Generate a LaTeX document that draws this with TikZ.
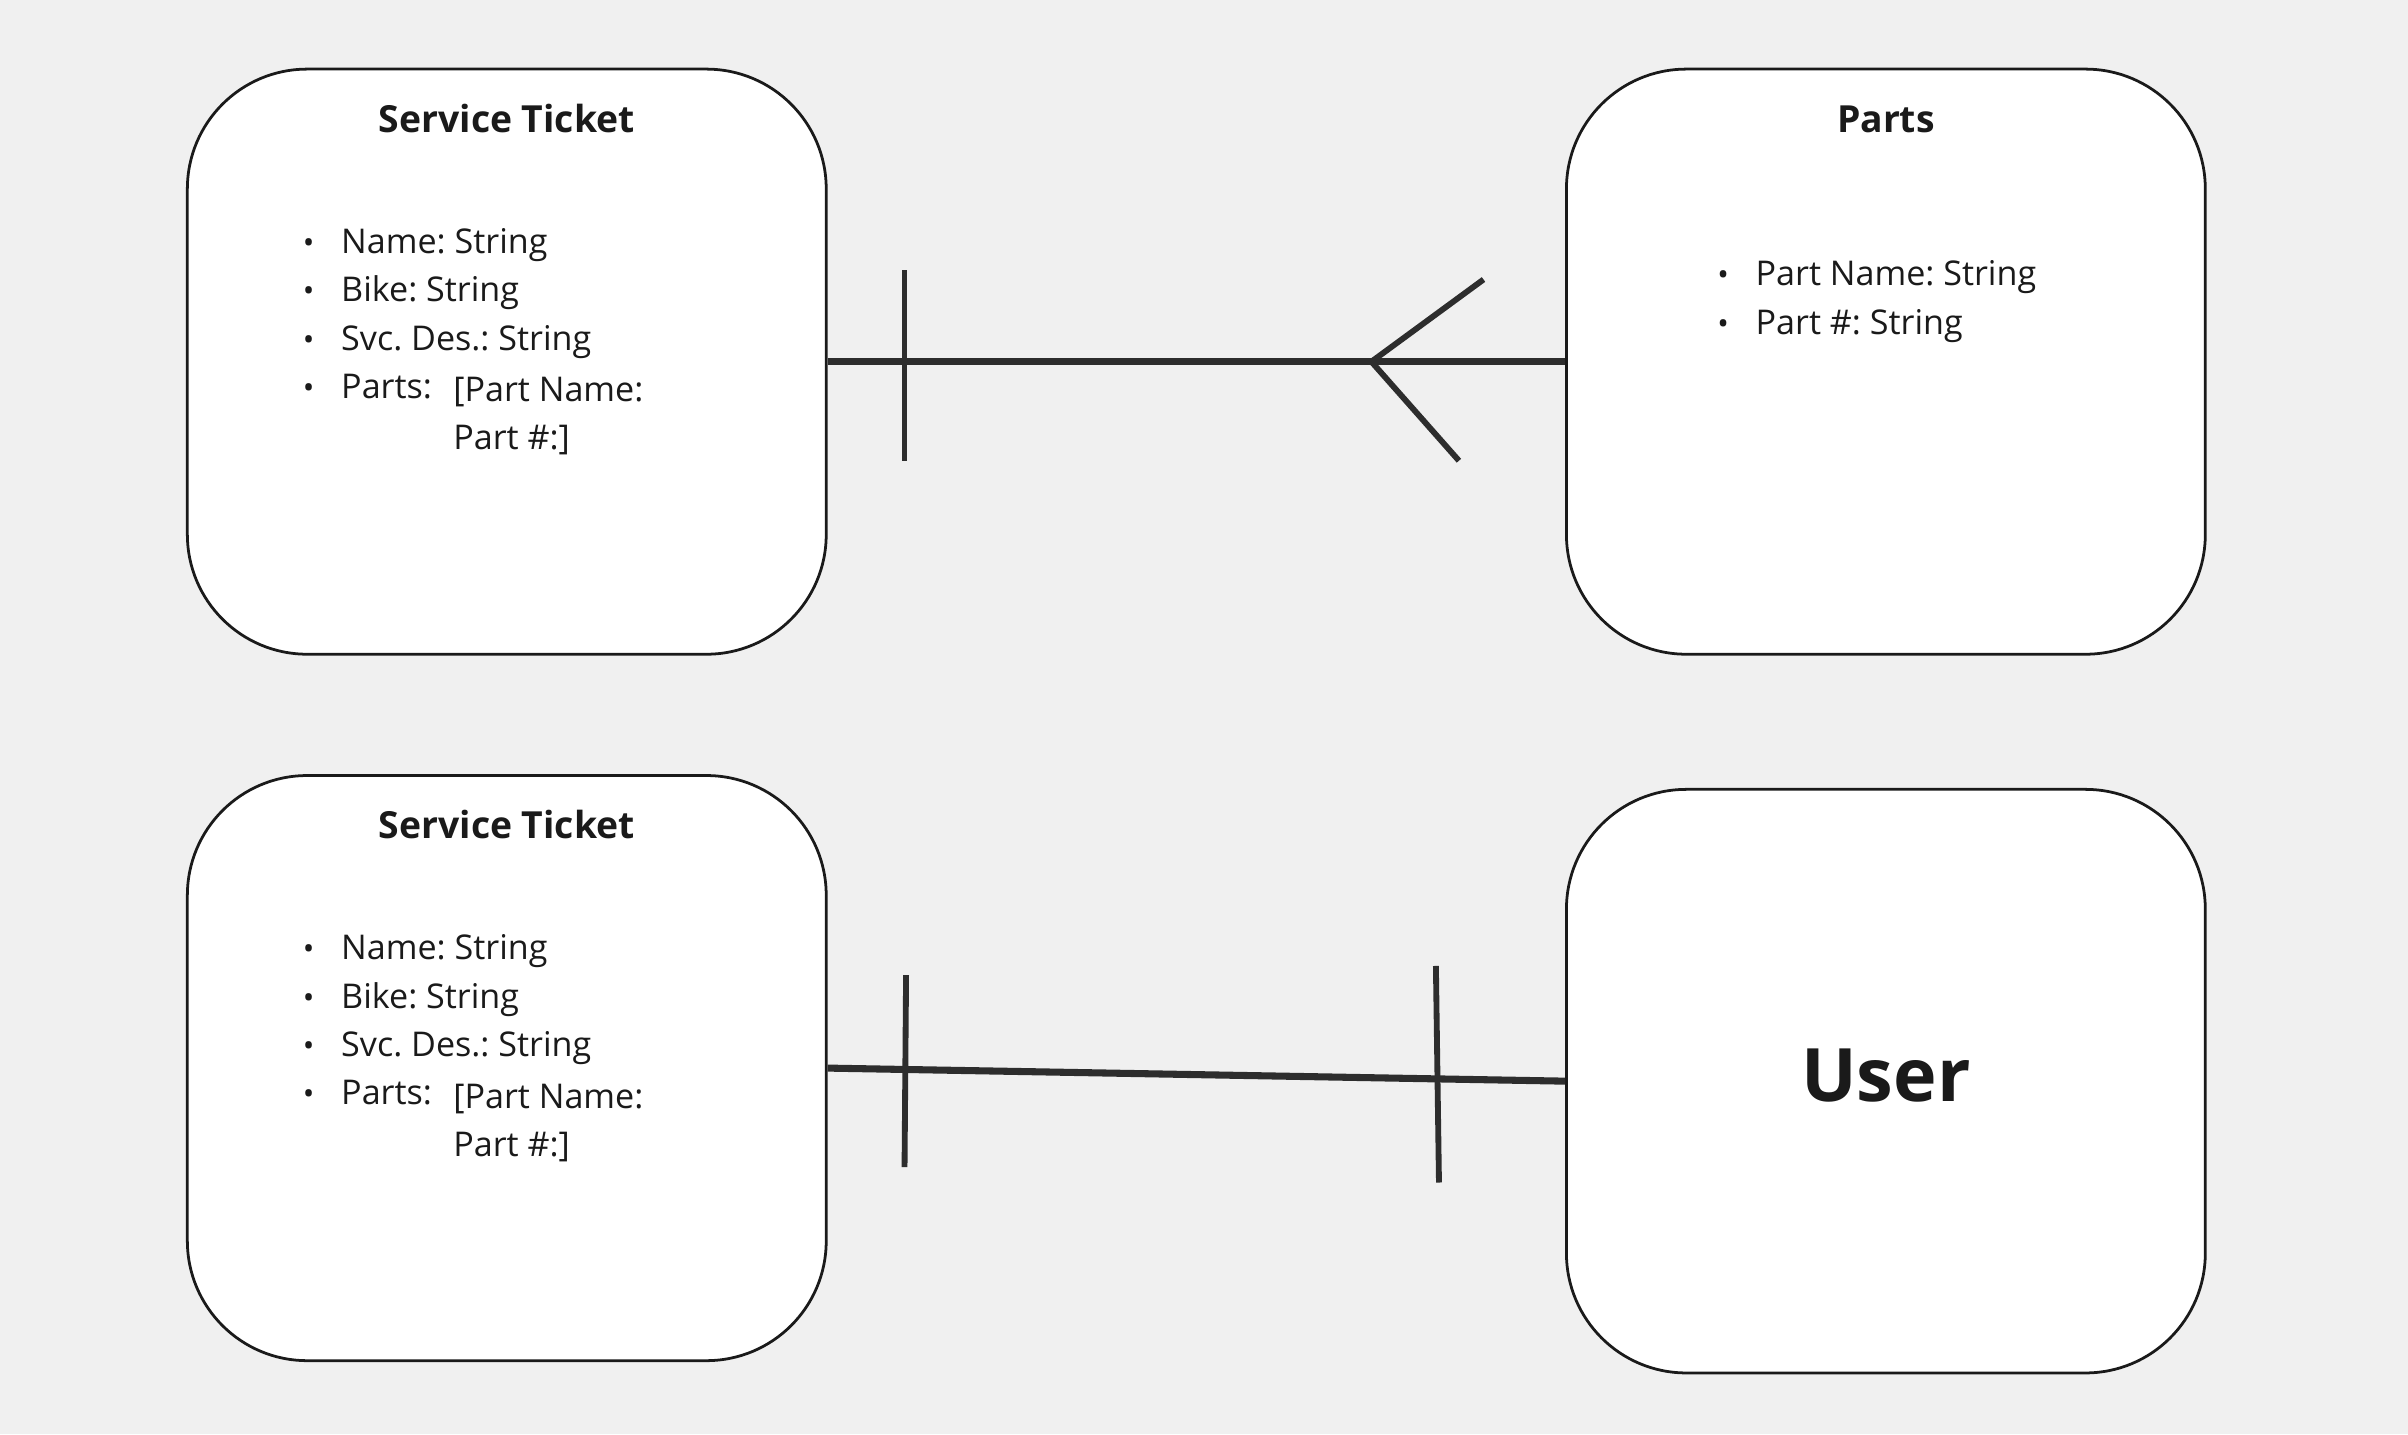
\documentclass[tikz,border=0pt]{standalone}
\usepackage{fontspec}
\setmainfont{Open Sans}
\frenchspacing
\definecolor{bgc}{HTML}{F0F0F0}
\definecolor{boxline}{HTML}{1A1A1A}
\definecolor{ink}{HTML}{1A1A1A}
\definecolor{linec}{HTML}{2D2D2D}
\begin{document}
\begin{tikzpicture}[x=1pt,y=-1pt,
  entity/.style={draw=boxline, fill=white, line width=1.8pt, rounded corners=78pt,
    minimum width=416pt, minimum height=381pt, inner sep=0pt},
  title/.style={font=\bfseries\fontsize{24.3}{30}\selectfont, text=ink, anchor=base, inner sep=0pt},
  bigtitle/.style={font=\bfseries\fontsize{48}{58}\selectfont, text=ink, anchor=base, inner sep=0pt},
  body/.style={font=\fontsize{22.2}{31.5}\selectfont, text=ink, anchor=base west, inner sep=0pt},
  bul/.style={font=\fontsize{20}{31.5}\selectfont, text=ink, anchor=base, inner sep=0pt},
  conn/.style={draw=linec, line width=4.6pt},
  bar/.style={draw=linec, line width=3.8pt}]
\fill[bgc] (0,0) rectangle (1568,934);
\useasboundingbox (0,0) rectangle (1568,934);

% boxes
\node[entity] (st1) at (330,235.5) {};
\node[entity] (parts) at (1228,235.5) {};
\node[entity] (st2) at (330,695.5) {};
\node[entity, minimum height=380pt] (user) at (1228,704) {};

% Service Ticket (top)
\node[title] (st1t) at (330,86) {Service Ticket};
\node[bul] (st1b1) at (201,165) {•};
\node[body] (st1a) at (222,165) {Name: String};
\node[bul] (st1b2) at (201,196.5) {•};
\node[body] (st1b) at (222,196.5) {Bike: String};
\node[bul] (st1b3) at (201,228) {•};
\node[body] (st1c) at (222,228) {Svc. Des.: String};
\node[bul] (st1b4) at (201,259.5) {•};
\node[body] (st1d) at (222,259.5) {Parts:};
\node[body] (st1e) at (295,261.5) {[Part Name:};
\node[body] (st1f) at (295,293) {Part \#:]};

% Parts
\node[title] (partst) at (1228,86) {Parts};
\node[bul] (pb1) at (1122,186) {•};
\node[body] (pa) at (1143,186) {Part Name: String};
\node[bul] (pb2) at (1122,217.5) {•};
\node[body] (pb) at (1143,217.5) {Part \#: String};

% Service Ticket (bottom)
\node[title] (st2t) at (330,546) {Service Ticket};
\node[bul] (st2b1) at (201,625) {•};
\node[body] (st2a) at (222,625) {Name: String};
\node[bul] (st2b2) at (201,656.5) {•};
\node[body] (st2b) at (222,656.5) {Bike: String};
\node[bul] (st2b3) at (201,688) {•};
\node[body] (st2c) at (222,688) {Svc. Des.: String};
\node[bul] (st2b4) at (201,719.5) {•};
\node[body] (st2d) at (222,719.5) {Parts:};
\node[body] (st2e) at (295,721.5) {[Part Name:};
\node[body] (st2f) at (295,753) {Part \#:]};

% User
\node[bigtitle] (usert) at (1228,717) {User};

% top relationship: one to many
\draw[conn] (st1.east) -- (parts.west);
\draw[bar] (589,176) -- (589,300);
\coordinate (crow) at (893,235.5);
\draw[bar] (966,182) -- (crow) -- (950,300);

% bottom relationship: one to one
\draw[conn] (st2.east) -- (user.west);
\draw[bar] (590,635) -- (589,760);
\draw[bar] (935,629) -- (937,770);
\end{tikzpicture}
\end{document}
